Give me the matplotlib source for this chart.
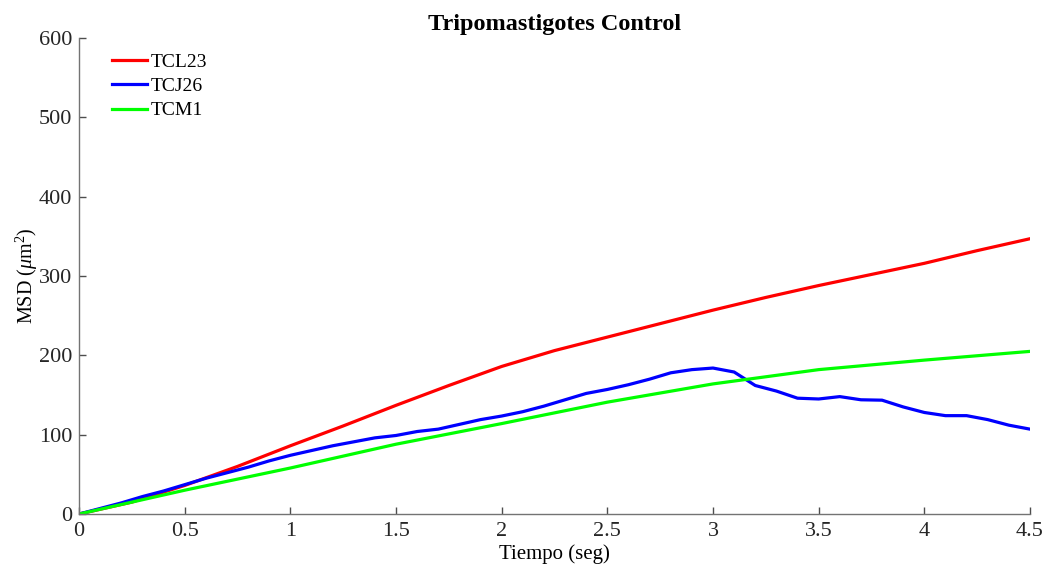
import numpy as np
import matplotlib
matplotlib.use('Agg')
import matplotlib.pyplot as plt

plt.rcParams['font.family'] = ['Liberation Serif', 'DejaVu Serif']
plt.rcParams['mathtext.fontset'] = 'custom'
plt.rcParams['mathtext.rm'] = 'Liberation Serif'
plt.rcParams['mathtext.it'] = 'Liberation Serif:italic'

# red curve (TCL23)
t_red = [0, 0.25, 0.5, 0.75, 1.0, 1.25, 1.5, 1.75, 2.0, 2.25, 2.5,
         2.75, 3.0, 3.25, 3.5, 3.75, 4.0, 4.25, 4.5]
msd_red = [0, 15, 36, 60, 86, 111, 137, 162, 186, 206, 223,
           240, 257, 273, 288, 302, 316, 332, 347]

# blue curve (TCJ26), sampled every 0.1 s
t_blue = [i / 10 for i in range(46)]
msd_blue = [0, 7, 14, 22, 29, 37, 45, 52, 59, 67,
            74, 80, 86, 91, 96, 99, 104, 107, 113, 119,
            123.5, 129, 136, 144, 152, 157, 163, 170, 178, 182,
            184, 179, 162, 155, 146, 145, 148, 144, 143.5, 135,
            128, 124, 124, 119, 112, 107]

# green curve (TCM1)
t_green = [0, 0.5, 1.0, 1.5, 2.0, 2.5, 3.0, 3.5, 4.0, 4.5]
msd_green = [0, 30, 58, 88, 114, 141, 164, 182, 194, 205]

fig = plt.figure(figsize=(10.48, 5.76), dpi=100)
ax = fig.add_axes([0.0754, 0.1076, 0.9074, 0.8264])

ax.plot(t_red, msd_red, color='#ff0000', lw=2.3, label='TCL23')
ax.plot(t_blue, msd_blue, color='#0000ff', lw=2.3, label='TCJ26')
ax.plot(t_green, msd_green, color='#00ff00', lw=2.3, label='TCM1')

ax.set_xlim(0, 4.5)
ax.set_ylim(0, 600)
ax.set_xticks(np.arange(0, 4.51, 0.5))
ax.set_xticklabels(['0', '0.5', '1', '1.5', '2', '2.5', '3', '3.5', '4', '4.5'])
ax.set_yticks(range(0, 601, 100))

for s in ['top', 'right']:
    ax.spines[s].set_visible(False)
for s in ['left', 'bottom']:
    ax.spines[s].set_color('0.45')
    ax.spines[s].set_linewidth(1.0)
ax.tick_params(direction='in', length=5, width=1.0, color='0.3',
               labelsize=16, labelcolor='#262626')
ax.tick_params(axis='x', pad=6)
ax.tick_params(axis='y', pad=5)

ax.set_xlabel('Tiempo (seg)', fontsize=15, labelpad=2)
ax.set_ylabel(r'MSD ($\mu$m$^2$)', fontsize=14.5, labelpad=-1)
ax.set_title('Tripomastigotes Control', fontsize=17.5, fontweight='bold', pad=6)

ax.legend(loc='upper left', frameon=False, fontsize=14, handlelength=1.85,
          handletextpad=0.15, labelspacing=0.35, borderaxespad=0.0,
          bbox_to_anchor=(0.026, 0.985))

fig.savefig('out.png', dpi=100)
